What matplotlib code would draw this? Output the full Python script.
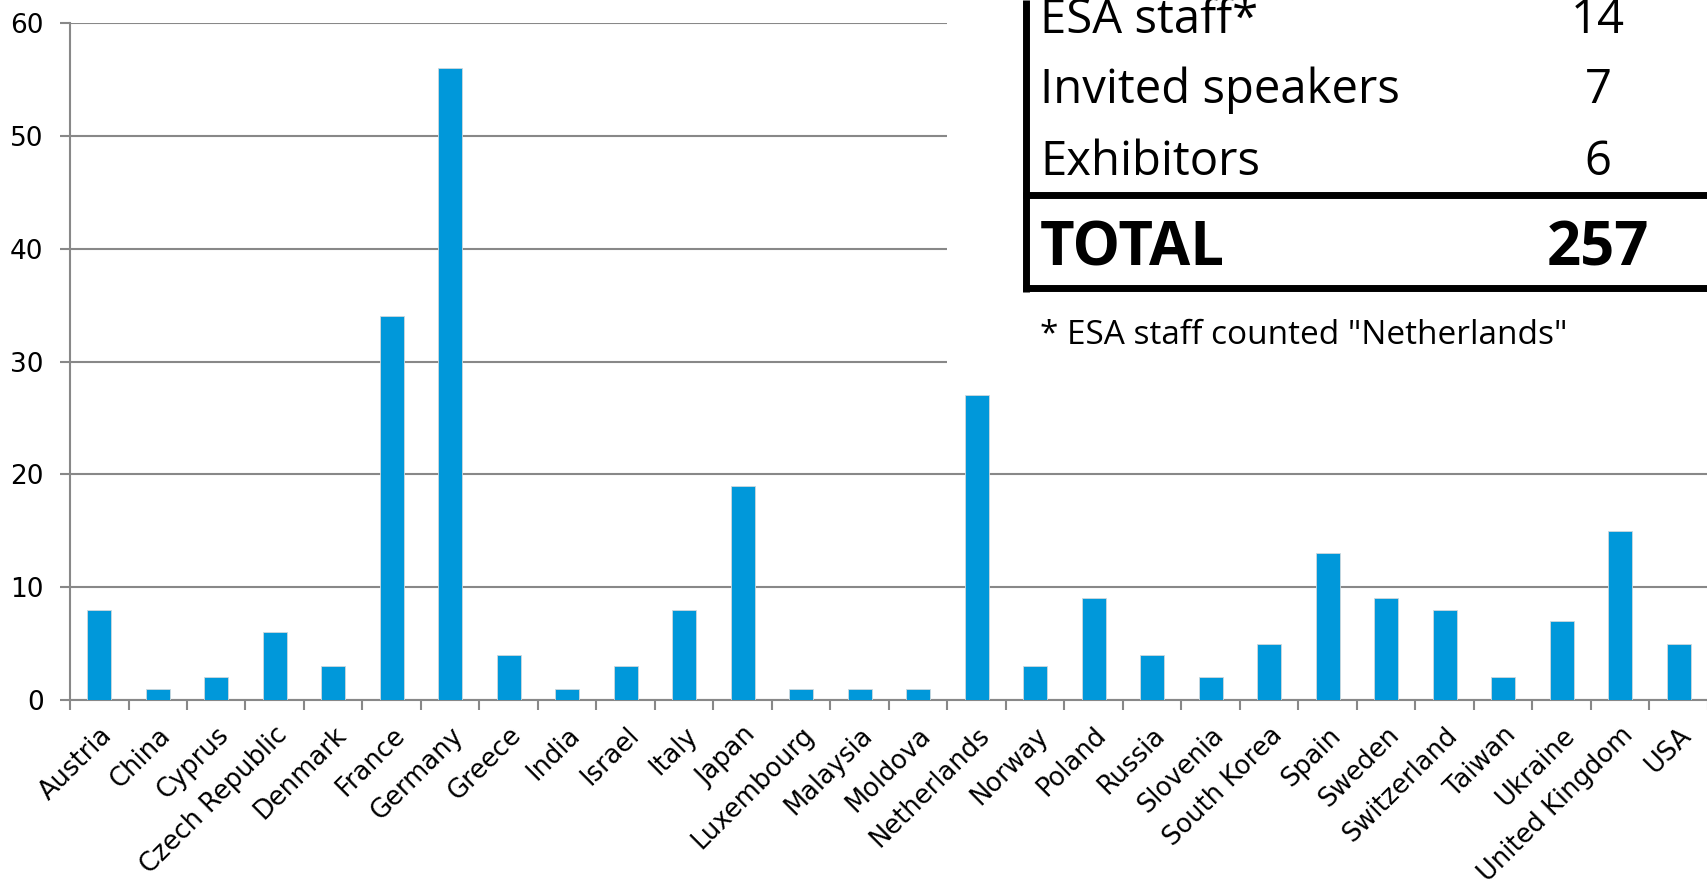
import matplotlib
matplotlib.use("Agg")
import matplotlib.pyplot as plt
from matplotlib.patches import Rectangle
from matplotlib.lines import Line2D

# Participants per country
countries = ["Austria", "China", "Cyprus", "Czech Republic", "Denmark", "France",
             "Germany", "Greece", "India", "Israel", "Italy", "Japan", "Luxembourg",
             "Malaysia", "Moldova", "Netherlands", "Norway", "Poland", "Russia",
             "Slovenia", "South Korea", "Spain", "Sweden", "Switzerland", "Taiwan",
             "Ukraine", "United Kingdom", "USA"]
participants = [8, 1, 2, 6, 3, 34, 56, 4, 1, 3, 8, 19, 1, 1, 1, 27, 3, 9, 4, 2,
                5, 13, 9, 8, 2, 7, 15, 5]

# Summary table
table_labels = ["ESA staff*", "Invited speakers", "Exhibitors"]
table_values = [14, 7, 6]
total_label = "TOTAL"
total_value = 257
footnote = '* ESA staff counted "Netherlands"'

W, H = 1707, 882
BLUE = "#0098DA"
GRID = "#888888"

fig = plt.figure(figsize=(W / 100, H / 100), dpi=100)
ax = fig.add_axes([70 / W, 1 - 700 / H, (1708 - 70) / W, (700 - 23) / H])

x = list(range(len(countries)))
ax.bar(x, participants, width=0.41, color=BLUE, edgecolor="#cfd8dc", linewidth=0.6, zorder=3)

ax.set_xlim(-0.5, len(countries) - 0.5)
ax.set_ylim(0, 60)
ax.set_yticks(range(0, 61, 10))
ax.yaxis.grid(True, color=GRID, linewidth=1.5, zorder=0)

# category borders get the tick marks, labels sit at the centres
ax.set_xticks([i - 0.5 for i in range(len(countries) + 1)])
ax.set_xticklabels([])
ax.set_xticks(x, minor=True)
ax.set_xticklabels(countries, minor=True, rotation=45, ha="right",
                   rotation_mode="anchor", fontsize=18.5, family="DejaVu Sans")
ax.tick_params(axis="x", which="minor", length=0, pad=16)
ax.tick_params(axis="x", which="major", length=7, width=1.5, color=GRID)
ax.tick_params(axis="y", length=7, width=1.5, color=GRID, labelsize=19, pad=12)

for side in ["top", "right"]:
    ax.spines[side].set_visible(False)
for side in ["left", "bottom"]:
    ax.spines[side].set_color(GRID)
    ax.spines[side].set_linewidth(1.5)


def fx(px):
    return px / W


def fy(py):
    return 1 - py / H


# White box behind the summary table
fig.add_artist(Rectangle((fx(947), fy(378)), fx(W - 947), 378 / H,
                         transform=fig.transFigure, facecolor="white",
                         edgecolor="none", zorder=5))

# Table borders
fig.add_artist(Line2D([fx(1026), fx(1026)], [fy(0), fy(292)], transform=fig.transFigure,
                      color="black", linewidth=5, solid_capstyle="butt", zorder=6))
fig.add_artist(Line2D([fx(1023), fx(W)], [fy(195), fy(195)], transform=fig.transFigure,
                      color="black", linewidth=5, solid_capstyle="butt", zorder=6))
fig.add_artist(Line2D([fx(1023), fx(W)], [fy(288), fy(288)], transform=fig.transFigure,
                      color="black", linewidth=5, solid_capstyle="butt", zorder=6))

font = "Open Sans"
val_x = 1598
baselines = [33, 103, 175]
for label, val, yb in zip(table_labels, table_values, baselines):
    fig.text(fx(1040), fy(yb), label, fontsize=34, family=font, va="baseline",
             ha="left", zorder=7)
    fig.text(fx(val_x), fy(yb), str(val), fontsize=34, family=font, va="baseline",
             ha="center", zorder=7)

fig.text(fx(1040), fy(266), total_label, fontsize=43, family=font, weight="bold",
         va="baseline", ha="left", zorder=7)
fig.text(fx(val_x), fy(266), str(total_value), fontsize=43, family=font, weight="bold",
         va="baseline", ha="center", zorder=7)

fig.text(fx(1040), fy(344), footnote, fontsize=24, family=font, va="baseline",
         ha="left", zorder=7)

fig.savefig("out.png", dpi=100)
